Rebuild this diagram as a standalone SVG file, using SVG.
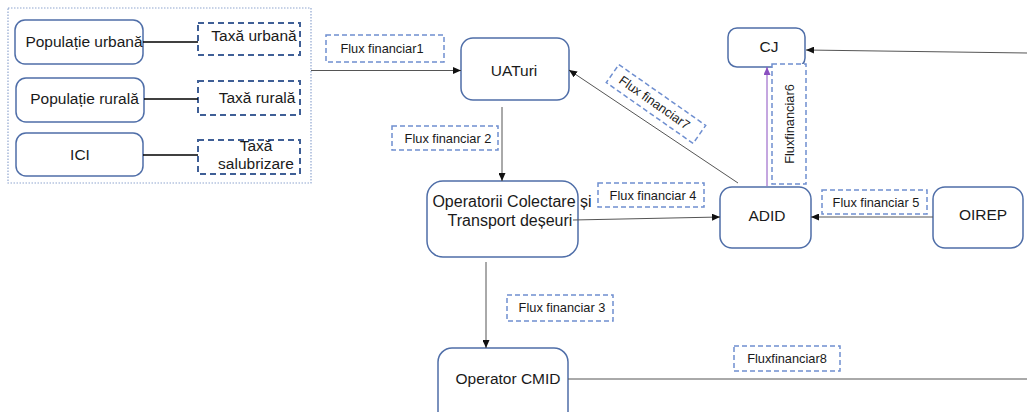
<svg xmlns="http://www.w3.org/2000/svg" width="1027" height="412" viewBox="0 0 1027 412">
<style>
.node{fill:#fff;stroke:#4f6ea8;stroke-width:1.5}
.tax{fill:#fff;stroke:#3f5f96;stroke-width:2;stroke-dasharray:6,4}
.lbl{fill:#fff;stroke:#6f8fd0;stroke-width:1.5;stroke-dasharray:5,3}
.t{font-family:"Liberation Sans",Arial,sans-serif;font-size:15.5px;font-weight:normal;fill:#1a1a1a;text-anchor:middle}
.s{font-family:"Liberation Sans",Arial,sans-serif;font-size:12.8px;font-weight:normal;fill:#1a1a1a;text-anchor:middle}
.c{fill:none;stroke:#555;stroke-width:1}
.k{fill:none;stroke:#000;stroke-width:1.5}
</style>
<defs>
<marker id="ah" markerWidth="8" markerHeight="7" refX="8" refY="3.5" orient="auto" markerUnits="userSpaceOnUse"><path d="M0,0 L8,3.5 L0,7 z" fill="#111"/></marker>
<marker id="ap" markerWidth="8" markerHeight="7" refX="8" refY="3.5" orient="auto" markerUnits="userSpaceOnUse"><path d="M0,0 L8,3.5 L0,7 z" fill="#8a4fc0"/></marker>
</defs>
<rect x="8" y="8" width="303" height="175" fill="none" stroke="#8fa6cf" stroke-width="1.2" stroke-dasharray="1.5,1.5"/>
<g id="pop-urbana"><rect class="node" x="15" y="20" width="128" height="44" rx="10"/><text class="t" x="84" y="47">Populație urbană</text></g>
<g id="taxa-urbana"><rect class="tax" x="198" y="23" width="102" height="32"/><text class="t" x="254" y="41">Taxă urbană</text></g>
<g id="pop-rurala"><rect class="node" x="16" y="78" width="128" height="44" rx="10"/><text class="t" x="84.5" y="104">Populație rurală</text></g>
<g id="taxa-rurala"><rect class="tax" x="198" y="81" width="102" height="34"/><text class="t" x="257" y="103">Taxă rurală</text></g>
<g id="ici"><rect class="node" x="16" y="133" width="127" height="43" rx="10"/><text class="t" x="80" y="160">ICI</text></g>
<g id="taxa-salubrizare"><rect class="tax" x="198" y="140" width="102" height="34"/><text class="t" x="256" y="151">Taxă</text><text class="t" x="256" y="169">salubrizare</text></g>
<g id="flux1"><rect class="lbl" x="326" y="35" width="118" height="27"/><text class="s" x="382" y="53">Flux financiar1</text></g>
<g id="uat"><rect class="node" x="461" y="38" width="108" height="62" rx="12"/><text class="t" x="514" y="76">UATuri</text></g>
<g id="flux2"><rect class="lbl" x="392" y="126" width="106" height="24"/><text class="s" x="448" y="143">Flux financiar 2</text></g>
<g id="flux7" transform="translate(656,104) rotate(35)"><rect class="lbl" x="-53" y="-11" width="106" height="22"/><text class="s" x="-2" y="4">Flux financiar7</text></g>
<g id="cj"><rect class="node" x="728" y="28" width="77" height="39" rx="9"/><text class="t" x="769" y="52">CJ</text></g>
<g id="flux6"><rect class="lbl" x="772" y="64" width="34" height="120"/><text class="s" transform="translate(794,124) rotate(-90)" x="0" y="0">Fluxfinanciar6</text></g>
<g id="operatorii"><rect class="node" x="427" y="181" width="151" height="76" rx="16"/><text class="t" style="font-size:16px" x="512" y="207">Operatorii Colectare și</text><text class="t" style="font-size:16px" x="510" y="226">Transport deșeuri</text></g>
<g id="flux4"><rect class="lbl" x="598" y="183" width="106" height="24"/><text class="s" x="653" y="200">Flux financiar 4</text></g>
<g id="adid"><rect class="node" x="720" y="187" width="91" height="61" rx="12"/><text class="t" x="767" y="221">ADID</text></g>
<g id="flux5"><rect class="lbl" x="822" y="190" width="105" height="24"/><text class="s" x="876" y="207">Flux financiar 5</text></g>
<g id="oirep"><rect class="node" x="933" y="187" width="90" height="61" rx="12"/><text class="t" x="983" y="220">OIREP</text></g>
<g id="flux3"><rect class="lbl" x="507" y="295" width="106" height="26"/><text class="s" x="562" y="312">Flux financiar 3</text></g>
<g id="cmid"><rect class="node" x="438" y="348" width="130" height="80" rx="14"/><text class="t" x="508" y="384">Operator CMID</text></g>
<g id="flux8"><rect class="lbl" x="734" y="346" width="106" height="25"/><text class="s" x="787" y="363">Fluxfinanciar8</text></g>
<g id="connectors">
<line class="k" x1="143" y1="42" x2="198" y2="42"/>
<line class="k" x1="144" y1="99" x2="198" y2="99"/>
<line class="k" x1="143" y1="155" x2="198" y2="155"/>
<line class="c" x1="311" y1="70.5" x2="461" y2="70.5" marker-end="url(#ah)"/>
<line class="c" x1="502" y1="107" x2="502" y2="181" marker-end="url(#ah)"/>
<line class="c" x1="738" y1="183" x2="569" y2="70" marker-end="url(#ah)"/>
<line x1="767" y1="186" x2="767" y2="67" stroke="#8a4fc0" stroke-width="1" marker-end="url(#ap)"/>
<line class="c" x1="1027" y1="53" x2="806" y2="50" marker-end="url(#ah)"/>
<line class="c" x1="573" y1="220" x2="720" y2="217" marker-end="url(#ah)"/>
<line class="c" x1="933" y1="217" x2="811" y2="217" marker-end="url(#ah)"/>
<line class="c" x1="486" y1="262" x2="486" y2="348" marker-end="url(#ah)"/>
<line class="c" x1="568" y1="379" x2="1027" y2="379"/>
</g>
</svg>
